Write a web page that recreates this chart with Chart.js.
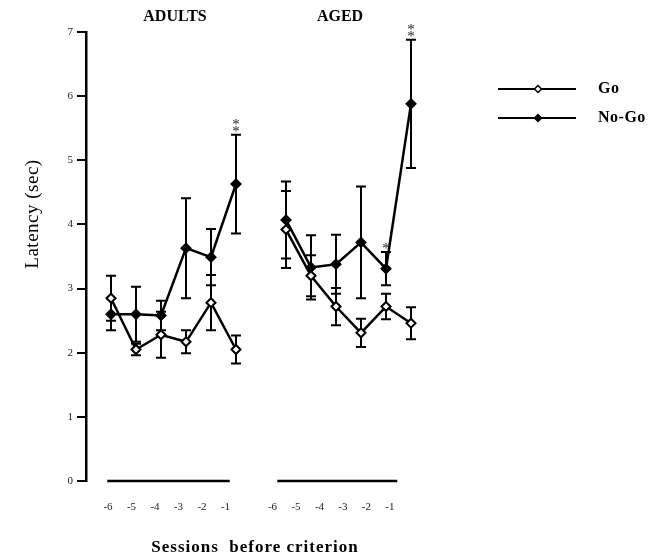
<!DOCTYPE html>
<html>
<head>
<meta charset="utf-8">
<script src="https://cdn.jsdelivr.net/npm/chart.js@4.4.1/dist/chart.umd.min.js"></script>
<style>
  html, body { margin: 0; padding: 0; background: #fff; }
  canvas { display: block; }
</style>
</head>
<body>
<canvas id="latencyChart" width="664" height="559"></canvas>
<script>
// Sessions before criterion (same for both groups)
const sessions = ['-6', '-5', '-4', '-3', '-2', '-1'];
const groups = ['ADULTS', 'AGED'];

// Mean latency (sec) and error bars
const adultsGo = [2.85, 2.05, 2.28, 2.17, 2.78, 2.05];
const adultsGoErr = [0.35, 0.09, 0.36, 0.18, 0.43, 0.22];
const adultsNoGo = [2.60, 2.60, 2.58, 3.63, 3.49, 4.63];
const adultsNoGoErr = [0.25, 0.43, 0.23, 0.78, 0.44, 0.77];
const agedGo = [3.92, 3.20, 2.72, 2.31, 2.72, 2.46];
const agedGoErr = [0.60, 0.32, 0.29, 0.22, 0.20, 0.25];
const agedNoGo = [4.07, 3.33, 3.38, 3.72, 3.31, 5.88];
const agedNoGoErr = [0.60, 0.50, 0.46, 0.87, 0.26, 1.00];

// significance marks above the No-Go error bars
const adultsStars = ['', '', '', '', '', '**'];
const agedStars = ['', '', '', '', '*', '**'];

const yTicks = [0, 1, 2, 3, 4, 5, 6, 7];

// x slots: adults 0..5, gap at 6, aged 7..12
const adultsX = sessions.map((s, i) => i);
const agedX = sessions.map((s, i) => i + 7);
const tickLabels = [...sessions, '', ...sessions];

const SERIF = "'Liberation Serif', 'Times New Roman', serif";

const toPoints = (xs, ys) => xs.map((x, i) => ({ x, y: ys[i] }));

const goStyle = {
  borderColor: '#000', borderWidth: 2.5, tension: 0,
  pointStyle: 'rectRot', pointRadius: 4.5, pointBorderWidth: 2,
  pointBackgroundColor: '#fff', pointBorderColor: '#000'
};
const noGoStyle = { ...goStyle, pointBackgroundColor: '#000' };

// error bars + stars
const errorBars = {
  id: 'errorBars',
  beforeDatasetsDraw(chart) {
    const { ctx, scales: { x, y } } = chart;
    ctx.save();
    ctx.strokeStyle = '#000';
    ctx.lineWidth = 2;
    chart.data.datasets.forEach(ds => {
      ds.data.forEach((p, i) => {
        const e = ds.errors[i];
        const px = x.getPixelForValue(p.x);
        const top = y.getPixelForValue(p.y + e);
        const bot = y.getPixelForValue(p.y - e);
        ctx.beginPath();
        ctx.moveTo(px, top); ctx.lineTo(px, bot);
        ctx.moveTo(px - 5, top); ctx.lineTo(px + 5, top);
        ctx.moveTo(px - 5, bot); ctx.lineTo(px + 5, bot);
        ctx.stroke();
      });
    });
    ctx.restore();
  },
  afterDatasetsDraw(chart) {
    const { ctx, scales: { x, y } } = chart;
    ctx.save();
    ctx.fillStyle = '#222';
    ctx.font = '15px ' + SERIF;
    ctx.textAlign = 'center';
    ctx.textBaseline = 'alphabetic';
    chart.data.datasets.forEach(ds => {
      if (!ds.stars) return;
      ds.data.forEach((p, i) => {
        const s = ds.stars[i];
        if (!s) return;
        const px = x.getPixelForValue(p.x);
        const top = y.getPixelForValue(p.y + ds.errors[i]);
        for (let k = 0; k < s.length; k++) {
          ctx.fillText('*', px, top + 1 - k * 7);
        }
      });
    });
    ctx.restore();
  }
};

// titles, baselines, legend
const decorations = {
  id: 'decorations',
  afterDraw(chart) {
    const { ctx, scales: { x, y } } = chart;
    ctx.save();
    ctx.fillStyle = '#000';
    ctx.strokeStyle = '#000';

    // baselines under each group
    ctx.lineWidth = 2.5;
    const y0 = y.getPixelForValue(0);
    [[-0.15, 4.75], [6.65, 11.45]].forEach(([a, b]) => {
      ctx.beginPath();
      ctx.moveTo(x.getPixelForValue(a), y0);
      ctx.lineTo(x.getPixelForValue(b), y0);
      ctx.stroke();
    });

    // group headers
    ctx.font = 'bold 16px ' + SERIF;
    ctx.textAlign = 'center';
    ctx.textBaseline = 'middle';
    ctx.fillText(groups[0], 175, 17);
    ctx.fillText(groups[1], 340, 17);

    // x title
    ctx.font = 'bold 17px ' + SERIF;
    ctx.letterSpacing = '1px';
    ctx.fillText('Sessions  before criterion', 255, 548);

    // y title
    ctx.save();
    ctx.translate(33, 214);
    ctx.rotate(-Math.PI / 2);
    ctx.font = '19px ' + SERIF;
    ctx.letterSpacing = '0.5px';
    ctx.fillText('Latency (sec)', 0, 0);
    ctx.restore();

    // legend
    const entries = [['Go', goStyle, 89], ['No-Go', noGoStyle, 118]];
    entries.forEach(([label, st, ly]) => {
      ctx.lineWidth = 2;
      ctx.beginPath();
      ctx.moveTo(498, ly); ctx.lineTo(576, ly);
      ctx.stroke();
      const r = 3.5;
      ctx.beginPath();
      ctx.moveTo(538, ly - r); ctx.lineTo(538 + r, ly);
      ctx.lineTo(538, ly + r); ctx.lineTo(538 - r, ly);
      ctx.closePath();
      ctx.fillStyle = st.pointBackgroundColor;
      ctx.fill();
      ctx.lineWidth = 1.5;
      ctx.stroke();
      ctx.fillStyle = '#000';
      ctx.font = 'bold 16px ' + SERIF;
      ctx.letterSpacing = '0.5px';
      ctx.textAlign = 'left';
      ctx.fillText(label, 598, ly);
    });
    ctx.restore();
  }
};

new Chart(document.getElementById('latencyChart'), {
  type: 'line',
  data: {
    datasets: [
      { label: 'Go', data: toPoints(adultsX, adultsGo), errors: adultsGoErr, ...goStyle },
      { label: 'Go', data: toPoints(agedX, agedGo), errors: agedGoErr, ...goStyle },
      { label: 'No-Go', data: toPoints(adultsX, adultsNoGo), errors: adultsNoGoErr, stars: adultsStars, ...noGoStyle },
      { label: 'No-Go', data: toPoints(agedX, agedNoGo), errors: agedNoGoErr, stars: agedStars, ...noGoStyle }
    ]
  },
  options: {
    responsive: false,
    animation: false,
    layout: { padding: { top: 32, right: 228, bottom: 0, left: 0 } },
    plugins: { legend: { display: false }, tooltip: { enabled: false } },
    scales: {
      x: { type: 'linear', min: -1, max: 13, display: false },
      xLabels: {
        type: 'linear', position: 'bottom',
        min: -0.936, max: 13.96,
        grid: { display: false, drawTicks: false },
        border: { display: false },
        afterBuildTicks: s => { s.ticks = tickLabels.map((t, i) => ({ value: i })); },
        afterFit: s => { s.height = 78; },
        ticks: {
          padding: 20, color: '#222', maxRotation: 0, autoSkip: false,
          font: { family: SERIF, size: 11 },
          callback: v => tickLabels[v] ?? ''
        }
      },
      y: {
        min: 0, max: 7,
        afterBuildTicks: s => { s.ticks = yTicks.map(v => ({ value: v })); },
        afterFit: s => { s.width = 86; },
        grid: { drawOnChartArea: false, tickLength: 9, color: '#000', lineWidth: 2 },
        border: { color: '#000', width: 2.5 },
        ticks: { padding: 4, color: '#222', font: { family: SERIF, size: 11 } }
      }
    }
  },
  plugins: [errorBars, decorations]
});
</script>
</body>
</html>
